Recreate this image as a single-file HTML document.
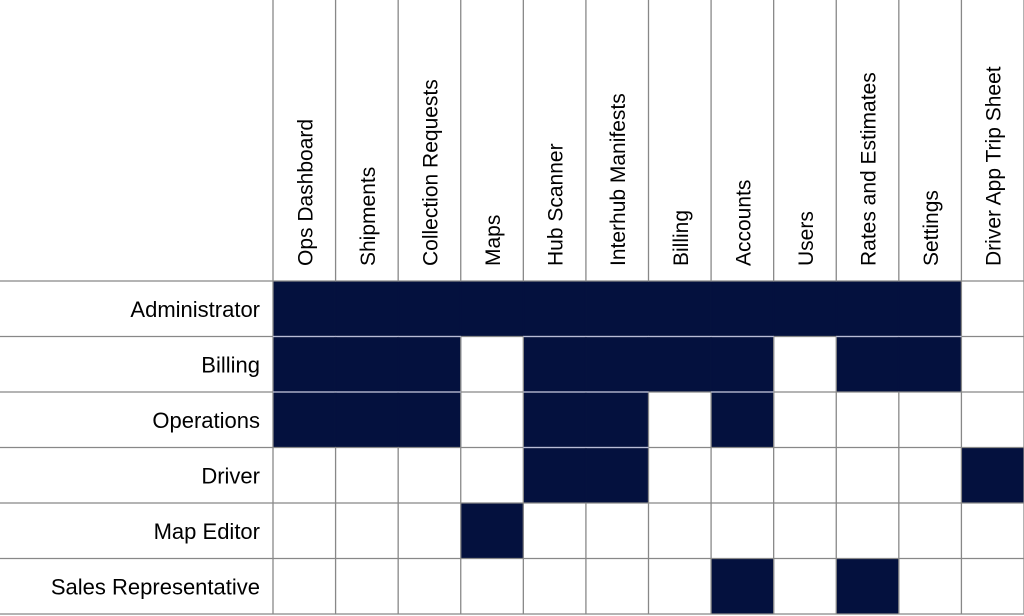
<!DOCTYPE html>
<html><head><meta charset="utf-8"><style>
html,body{margin:0;padding:0;background:#fff;}
svg{display:block;font-family:"Liberation Sans","DejaVu Sans",sans-serif;}
</style></head><body>
<svg id="c" width="1024" height="616" viewBox="0 0 1024 616" xmlns="http://www.w3.org/2000/svg"></svg>
<script>
const columns = ["Ops Dashboard","Shipments","Collection Requests","Maps","Hub Scanner","Interhub Manifests","Billing","Accounts","Users","Rates and Estimates","Settings","Driver App Trip Sheet"];
const roles = ["Administrator","Billing","Operations","Driver","Map Editor","Sales Representative"];
const access = [
  [1,1,1,1,1,1,1,1,1,1,1,0],
  [1,1,1,0,1,1,1,1,0,1,1,0],
  [1,1,1,0,1,1,0,1,0,0,0,0],
  [0,0,0,0,1,1,0,0,0,0,0,1],
  [0,0,0,1,0,0,0,0,0,0,0,0],
  [0,0,0,0,0,0,0,1,0,1,0,0]
];
const svg = document.getElementById('c');
const NS = 'http://www.w3.org/2000/svg';
const x0 = 273, cw = (1024 - 273) / 12, y0 = 281, rh = 55.5;
const colX = i => x0 + i * cw;
const rowY = j => y0 + j * rh;
function mk(t, a){const e=document.createElementNS(NS,t);for(const k in a)e.setAttribute(k,a[k]);svg.appendChild(e);return e;}
// fills
access.forEach((row,j)=>row.forEach((v,i)=>{
  if(!v) return;
  const r = mk('rect',{x:colX(i),y:rowY(j),width:cw+0.5,height:rh+0.5,fill:'#04113e'});
  
  
}));
// grid lines
for(let i=0;i<=12;i++){
  const l = mk('line',{x1:colX(i),x2:colX(i),y1:0,y2:rowY(6),stroke:'#888','stroke-width':1.3});
  
  
}
for(let j=0;j<=6;j++){
  const l = mk('line',{x1:0,x2:1024,y1:rowY(j),y2:rowY(j),stroke:'#888','stroke-width':1.3});
  
  
}
// lighten lines inside filled area
access.forEach((row,j)=>row.forEach((v,i)=>{
  if(j>0 && v && access[j-1][i]){
    const l = mk('line',{x1:colX(i),x2:colX(i+1),y1:rowY(j),y2:rowY(j),stroke:'#b8bcd6','stroke-width':1.3});
    
    
  }
  if(i>0 && v && row[i-1]){
    const l = mk('line',{x1:colX(i),x2:colX(i),y1:rowY(j)+0.7,y2:rowY(j+1)-0.7,stroke:'#04113e','stroke-width':2});
    
    
  }
}));
// row labels
roles.forEach((r,j)=>{
  const t = mk('text',{x:260,y:rowY(j)+rh/2+8,'text-anchor':'end','font-size':22,fill:'#000'});
  t.textContent = r;
  
  
});
// column labels
columns.forEach((c,i)=>{
  const cx = colX(i)+cw/2+8, cy = 266;
  const t = mk('text',{x:cx,y:cy,transform:`rotate(-90 ${cx} ${cy})`,'font-size':21,fill:'#000'});
  t.textContent = c;
  
  
});
</script>
</body></html>
